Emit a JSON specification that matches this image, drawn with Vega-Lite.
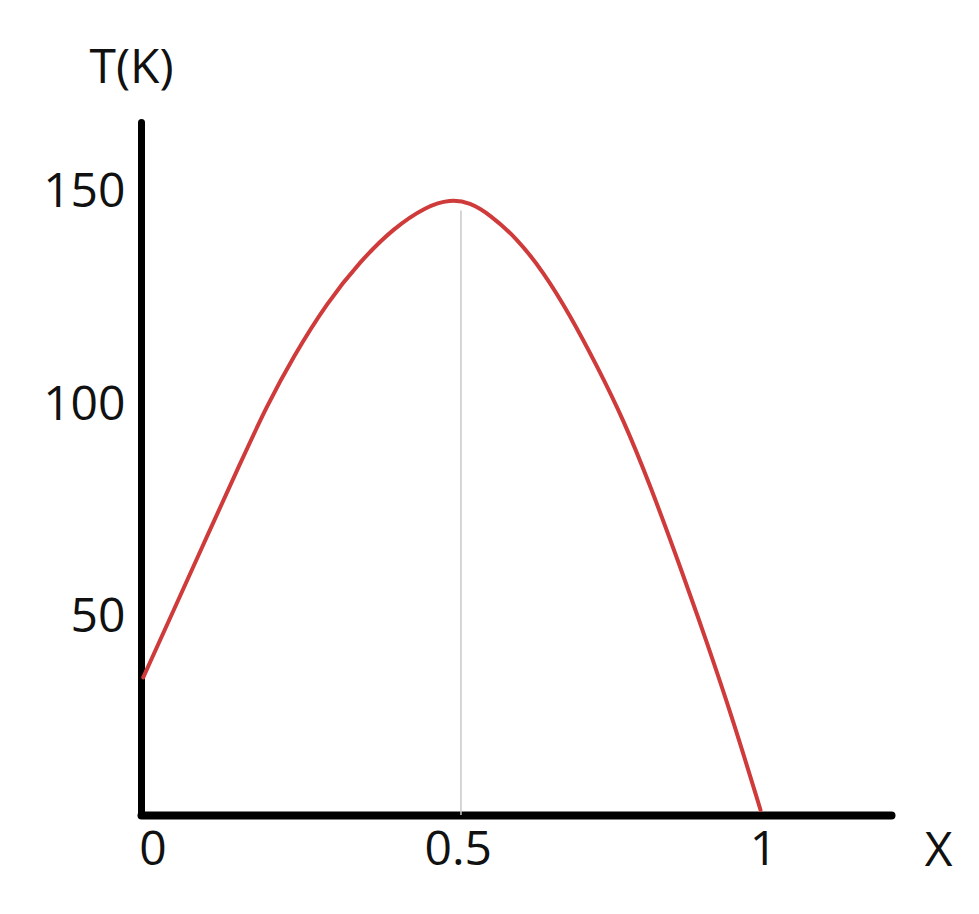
{
  "$schema": "https://vega.github.io/schema/vega-lite/v6.json",
  "autosize": {"type": "none"},
  "padding": {"left": 141, "top": 122, "right": 88, "bottom": 99},
  "width": 750,
  "height": 693,
  "background": "white",
  "config": {
    "view": {"stroke": null},
    "font": "Open Sans"
  },
  "datasets": {
    "curve": [
      {"x": -0.0151, "T": 36.0},
      {"x": 0.0341, "T": 51.6},
      {"x": 0.0888, "T": 69.0},
      {"x": 0.1433, "T": 86.2},
      {"x": 0.1871, "T": 99.8},
      {"x": 0.2306, "T": 111.4},
      {"x": 0.2853, "T": 124.0},
      {"x": 0.3399, "T": 133.8},
      {"x": 0.3944, "T": 141.6},
      {"x": 0.4491, "T": 146.8},
      {"x": 0.4873, "T": 148.4},
      {"x": 0.520, "T": 147.7},
      {"x": 0.5528, "T": 144.8},
      {"x": 0.5966, "T": 139.3},
      {"x": 0.6401, "T": 131.4},
      {"x": 0.6839, "T": 121.2},
      {"x": 0.7276, "T": 109.4},
      {"x": 0.7712, "T": 96.7},
      {"x": 0.8149, "T": 81.3},
      {"x": 0.8640, "T": 62.2},
      {"x": 0.9078, "T": 44.4},
      {"x": 0.9513, "T": 25.8},
      {"x": 0.9960, "T": 4.8}
    ],
    "guide": [
      {"x": 0.5053, "T": 3.63, "T2": 145.8}
    ]
  },
  "layer": [
    {
      "data": {"name": "guide"},
      "mark": {"type": "rule", "color": "#c8c8c8", "strokeWidth": 1.5},
      "encoding": {
        "x": {"field": "x", "type": "quantitative"},
        "y": {"field": "T", "type": "quantitative"},
        "y2": {"field": "T2"}
      }
    },
    {
      "data": {"name": "curve"},
      "mark": {"type": "line", "color": "#cf3a3a", "strokeWidth": 4, "interpolate": "basis", "strokeCap": "round"},
      "encoding": {
        "x": {
          "field": "x", "type": "quantitative",
          "scale": {"domain": [-0.0188, 1.2097], "nice": false, "zero": false},
          "axis": {
            "values": [0, 0.5, 1],
            "format": ".1~f",
            "grid": false,
            "ticks": false,
            "tickSize": 0,
            "domainColor": "#000000",
            "domainWidth": 8,
            "domainCap": "round",
            "labelFont": "Open Sans",
            "labelFontSize": 48,
            "labelColor": "#111111",
            "labelPadding": 11,
            "labelBaseline": "top",
            "labelFlush": false,
            "labelOverlap": false,
            "title": "X",
            "titleFont": "Open Sans",
            "titleFontSize": 48,
            "titleFontWeight": "normal",
            "titleColor": "#111111",
            "titleX": 797,
            "titleY": 50,
            "titleAlign": "center",
            "titleBaseline": "alphabetic",
            "titleAnchor": null
          }
        },
        "y": {
          "field": "T", "type": "quantitative",
          "scale": {"domain": [3.63, 166.6], "nice": false, "zero": false},
          "axis": {
            "values": [50, 100, 150],
            "format": "d",
            "grid": false,
            "ticks": false,
            "tickSize": 0,
            "domainColor": "#000000",
            "domainWidth": 7,
            "domainCap": "round",
            "labelFont": "Open Sans",
            "labelFontSize": 48,
            "labelColor": "#111111",
            "labelPadding": 16,
            "labelBaseline": "middle",
            "labelFlush": false,
            "labelOverlap": false,
            "title": "T(K)",
            "titleFont": "Open Sans",
            "titleFontSize": 48,
            "titleFontWeight": "normal",
            "titleColor": "#111111",
            "titleAngle": 0,
            "titleX": -10,
            "titleY": -40,
            "titleAlign": "center",
            "titleBaseline": "alphabetic",
            "titleAnchor": null
          }
        }
      }
    }
  ]
}
